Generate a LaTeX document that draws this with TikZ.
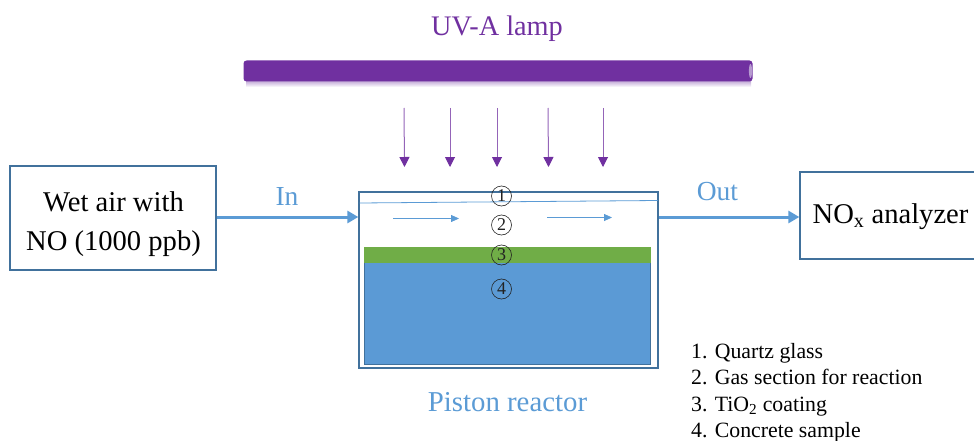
\documentclass[tikz,border=0pt]{standalone}
\usepackage{fontspec}
\setmainfont{Liberation Serif}
\usetikzlibrary{arrows.meta,calc}
\definecolor{uvpurple}{HTML}{7030A0}
\definecolor{lampedge}{HTML}{B79BD0}
\definecolor{flowblue}{HTML}{5B9BD5}
\definecolor{boxblue}{HTML}{41719C}
\definecolor{coatgreen}{HTML}{70AD47}
\definecolor{concrete}{HTML}{5B9AD5}
\definecolor{labelblue}{HTML}{5B9BD5}
\definecolor{inkdark}{HTML}{222222}
\tikzset{
  x=1pt,y=-1pt,
  infobox/.style={draw=boxblue,line width=1.3pt,fill=white,inner sep=0pt,align=center,font=\fontsize{28.6}{39}\selectfont,text=black},
  flowarrow/.style={draw=flowblue,line width=3pt,-{Triangle[length=11pt,width=12pt]}},
  gasarrow/.style={draw=flowblue,line width=.8pt,-{Triangle[length=8pt,width=7pt]}},
  uvarrow/.style={draw=uvpurple!75,line width=1pt,-{Triangle[length=10pt,width=10pt,color=uvpurple]}},
  bluelabel/.style={text=labelblue,font=\fontsize{27.5}{32}\selectfont,inner sep=0pt},
  numcircle/.style={circle,draw=inkdark,line width=.6pt,minimum size=20pt,inner sep=0pt,font=\fontsize{18}{20}\selectfont,text=inkdark},
  legendline/.style={anchor=base west,inner sep=0pt,font=\fontsize{21.8}{26}\selectfont,text=black}
}
\begin{document}
\begin{tikzpicture}
\useasboundingbox (0,0) rectangle (974,441);
% lamp
\shade[top color=lampedge,bottom color=white] (246,80) rectangle (751,87);
\node[draw=none,fill=uvpurple,rounded corners=3pt,minimum width=509pt,minimum height=21pt,inner sep=0pt] (lamp) at (498,71) {};
\fill[lampedge] (750.5,71) ellipse (1.6 and 7);
\node[text=uvpurple,font=\fontsize{28.3}{32}\selectfont,inner sep=0pt] (uvlabel) at (497,28.5) {UV-A lamp};
% uv arrows
\coordinate (u1a) at (404,108); \coordinate (u1b) at (404.5,167);
\coordinate (u2a) at (450,108); \coordinate (u2b) at (450,167);
\coordinate (u3a) at (497,108); \coordinate (u3b) at (497,167);
\coordinate (u4a) at (548,108); \coordinate (u4b) at (548.5,167);
\coordinate (u5a) at (603,108); \coordinate (u5b) at (603,167);
\foreach \i in {1,...,5} \draw[uvarrow] (u\i a) -- (u\i b);
% reactor
\node[draw=boxblue,line width=1.3pt,minimum width=299pt,minimum height=176pt,inner sep=0pt] (reactor) at (508.5,280) {};
\node[fill=coatgreen,minimum width=287pt,minimum height=16pt,inner sep=0pt] (coating) at (507.5,255) {};
\node[fill=concrete,minimum width=286pt,minimum height=101pt,inner sep=0pt] (sample) at (507.5,313.5) {};
\draw[boxblue,line width=.9pt] (sample.north west) -- (sample.south west) -- (sample.south east) -- (sample.north east);
\coordinate (qa) at (359.5,203); \coordinate (qb) at (657.5,200.5);
\draw[flowblue,line width=.8pt] (qa) -- (qb);
\coordinate (g1a) at (393,218.5); \coordinate (g1b) at (459,218.5);
\coordinate (g2a) at (547,217.5); \coordinate (g2b) at (612,217.5);
\draw[gasarrow] (g1a) -- (g1b);
\draw[gasarrow] (g2a) -- (g2b);
% circled numbers
\node[numcircle] (c1) at (501.5,196) {1};
\node[numcircle] (c2) at (501.5,225) {2};
\node[numcircle] (c3) at (501.5,255) {3};
\node[numcircle] (c4) at (501.5,289) {4};
% boxes
\node[infobox,minimum width=206pt,minimum height=104pt] (wet) at (113,218) {};
\node[inner sep=0pt,align=center,font=\fontsize{28.6}{39}\selectfont] (wettext) at (113.5,224) {Wet air with\\NO (1000 ppb)};
\node[infobox,minimum width=178pt,minimum height=87pt] (nox) at (889,215.5) {};
\node[inner sep=0pt,font=\fontsize{28.6}{39}\selectfont] (noxtext) at (890.5,216.5) {NO\textsubscript{x} analyzer};
% flow arrows
\draw[flowarrow] (wet.east |- 0,217) -- (reactor.west |- 0,217);
\draw[flowarrow] (reactor.east |- 0,217) -- (nox.west |- 0,217);
\node[bluelabel] (inlabel) at (287,196) {In};
\node[bluelabel] (outlabel) at (717.5,192) {Out};
\node[bluelabel,font=\fontsize{28.8}{34}\selectfont] (pistonlabel) at (507.5,402) {Piston reactor};
% legend
\node[legendline] (l1) at (691,358) {1. Quartz glass};
\node[legendline] (l2) at (691,384) {2. Gas section for reaction};
\node[legendline] (l3) at (691,411) {3. TiO\textsubscript{2} coating};
\node[legendline] (l4) at (691,437) {4. Concrete sample};
\end{tikzpicture}
\end{document}
